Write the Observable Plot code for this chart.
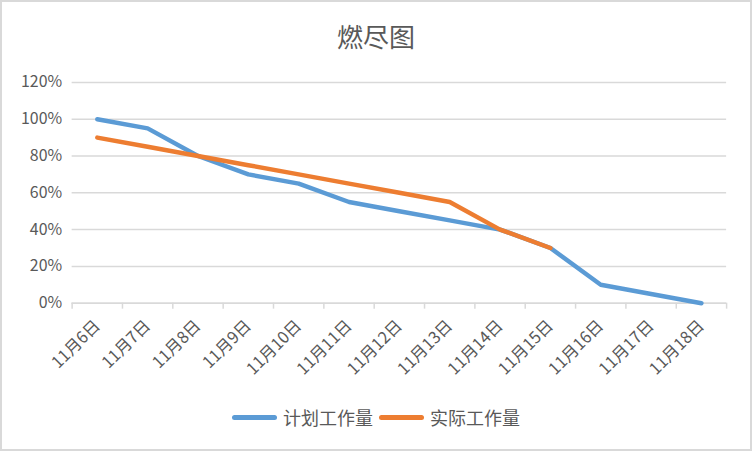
<!DOCTYPE html>
<html>
<head>
<meta charset="utf-8">
<script src="https://cdn.jsdelivr.net/npm/d3@7"></script>
<script src="https://cdn.jsdelivr.net/npm/@observablehq/plot@0.6"></script>
<style>
  html, body { margin: 0; padding: 0; background: #fff; }
  #chart {
    position: relative; width: 752px; height: 451px; box-sizing: border-box;
    border: 2px solid #d9d9d9; background: #fff; overflow: hidden;
    font-family: "Noto Sans CJK SC", "Noto Sans", sans-serif; color: #595959;
  }
  #title {
    position: absolute; left: 0; top: 12px; width: 100%; text-align: center;
    font-size: 26px; line-height: 44px; color: #595959;
  }
  #plot { position: absolute; left: -2px; top: 58px; }
  #legend {
    position: absolute; left: 0; top: 402px; width: 100%; display: flex;
    justify-content: center; align-items: center; font-size: 18px; color: #595959;
  }
  .item { display: flex; align-items: center; margin: 0 3px; }
  .swatch { width: 45px; height: 5px; border-radius: 3px; margin-right: 6px; }
</style>
</head>
<body>
<div id="chart">
  <div id="title">燃尽图</div>
  <div id="plot"></div>
  <div id="legend"></div>
</div>
<script>
const dates = ["11月6日","11月7日","11月8日","11月9日","11月10日","11月11日","11月12日","11月13日","11月14日","11月15日","11月16日","11月17日","11月18日"];
const planned = [100, 95, 80, 70, 65, 55, 50, 45, 40, 30, 10, 5, 0];
const actual = [90, 85, 80, 75, 70, 65, 60, 55, 40, 30];
const yTicks = [0, 20, 40, 60, 80, 100, 120];
const seriesNames = ["计划工作量", "实际工作量"];
const seriesColors = ["#5B9BD5", "#ED7D31"];

const plannedRows = planned.map((v, i) => ({i, date: dates[i], v}));
const actualRows = actual.map((v, i) => ({i, date: dates[i], v}));

const svg = Plot.plot({
  width: 754,
  height: 330,
  marginLeft: 72,
  marginRight: 24,
  marginTop: 22,
  marginBottom: 86,
  style: {fontFamily: '"Noto Sans CJK SC", "Noto Sans", sans-serif', color: "#595959", background: "transparent"},
  x: {domain: [0, dates.length]},
  y: {domain: [0, 120]},
  marks: [
    Plot.gridY(yTicks, {stroke: "#d9d9d9", strokeOpacity: 1, strokeWidth: 1.5}),
    Plot.axisY(yTicks, {tickSize: 0, tickPadding: 10, tickFormat: d => d + "%", fontSize: 16, fill: "#595959", label: null}),
    Plot.axisX(d3.range(dates.length + 1), {tickSize: 6, stroke: "#d9d9d9", strokeWidth: 1.5, tickFormat: () => "", label: null}),
    Plot.ruleY([0], {stroke: "#d9d9d9", strokeWidth: 1.5}),
    Plot.axisX(dates.map((d, i) => i + 0.5), {tickSize: 0, tickPadding: 20, tickRotate: -45, tickFormat: v => dates[Math.floor(v)], fontSize: 16.5, fill: "#595959", label: null}),
    Plot.line(plannedRows, {x: d => d.i + 0.5, y: "v", stroke: seriesColors[0], strokeWidth: 4.5, strokeLinecap: "round", strokeLinejoin: "round"}),
    Plot.line(actualRows, {x: d => d.i + 0.5, y: "v", stroke: seriesColors[1], strokeWidth: 4.5, strokeLinecap: "round", strokeLinejoin: "round"})
  ]
});
document.getElementById("plot").appendChild(svg);

const legend = document.getElementById("legend");
seriesNames.forEach((name, k) => {
  const item = document.createElement("div");
  item.className = "item";
  const sw = document.createElement("div");
  sw.className = "swatch";
  sw.style.background = seriesColors[k];
  const t = document.createElement("span");
  t.textContent = name;
  item.appendChild(sw);
  item.appendChild(t);
  legend.appendChild(item);
});
</script>
</body>
</html>
